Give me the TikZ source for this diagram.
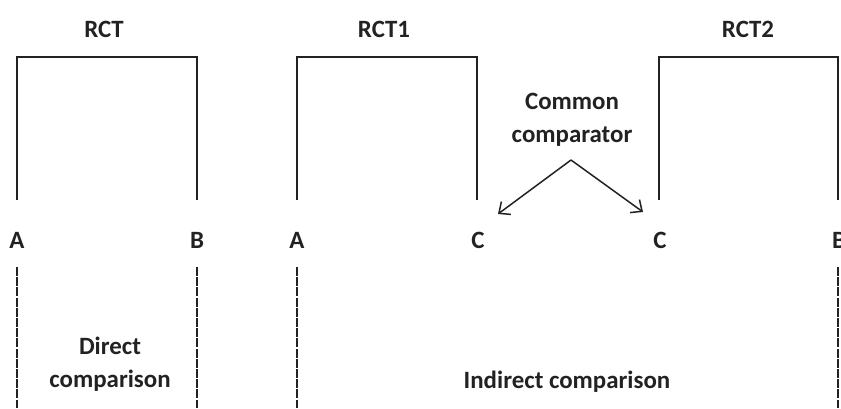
\documentclass[tikz,border=0pt]{standalone}
\usepackage{fontspec}
\setmainfont{Carlito}
\usetikzlibrary{arrows.meta}
\definecolor{ink}{HTML}{222222}
\tikzset{
  lbl/.style={font=\bfseries\fontsize{25}{30}\selectfont, text=ink, inner sep=0pt},
  solidln/.style={draw=ink, line width=1.5bp},
  dashln/.style={draw=ink, line width=1.1bp, dash pattern=on 9bp off 1.2bp},
  arr/.style={draw=ink, line width=1.5bp, -{Straight Barb[length=9bp,width=16bp]}}
}
\begin{document}
\begin{tikzpicture}[x=1bp,y=-1bp]
\useasboundingbox (0,0) rectangle (841,408);
% titles
\node[lbl] (t0) at (104,29) {RCT};
\node[lbl] (t1) at (384,29) {RCT1};
\node[lbl] (t2) at (748,29) {RCT2};
% brackets
\foreach \n/\l/\r in {b0/17/197, b1/297/477, b2/659/838}{
  \coordinate (\n ltop) at (\l,57);
  \coordinate (\n rtop) at (\r,57);
  \coordinate (\n lmid) at (\l,200);
  \coordinate (\n rmid) at (\r,200);
  \coordinate (\n llow) at (\l,267);
  \coordinate (\n rlow) at (\r,267);
  \coordinate (\n lbot) at (\l,408);
  \coordinate (\n rbot) at (\r,408);
  \draw[solidln] (\n lmid) -- (\n ltop) -- (\n rtop) -- (\n rmid);
}
\draw[dashln] (b0llow) -- (b0lbot);
\draw[dashln] (b0rlow) -- (b0rbot);
\draw[dashln] (b1llow) -- (b1lbot);
\draw[dashln] (b2rlow) -- (b2rbot);
% arm labels
\node[lbl] (a0) at (17,240) {A};
\node[lbl] (bb0) at (197,240) {B};
\node[lbl] (a1) at (297,240) {A};
\node[lbl] (c1) at (478,240) {C};
\node[lbl] (c2) at (660,240) {C};
\node[lbl] (bb2) at (839,240) {B};
% common comparator
\node[lbl, align=center] (cc) at (572,120) {Common\\[3bp]comparator};
\coordinate (apex) at (571,160);
\coordinate (tipl) at (498,214);
\coordinate (tipr) at (643,212);
\draw[arr] (apex) -- (tipl);
\draw[arr] (apex) -- (tipr);
% comparison labels
\node[lbl, align=center] (dc) at (110,364) {Direct\\[3bp]comparison};
\node[lbl] (ic) at (567,382) {Indirect comparison};
\end{tikzpicture}
\end{document}
